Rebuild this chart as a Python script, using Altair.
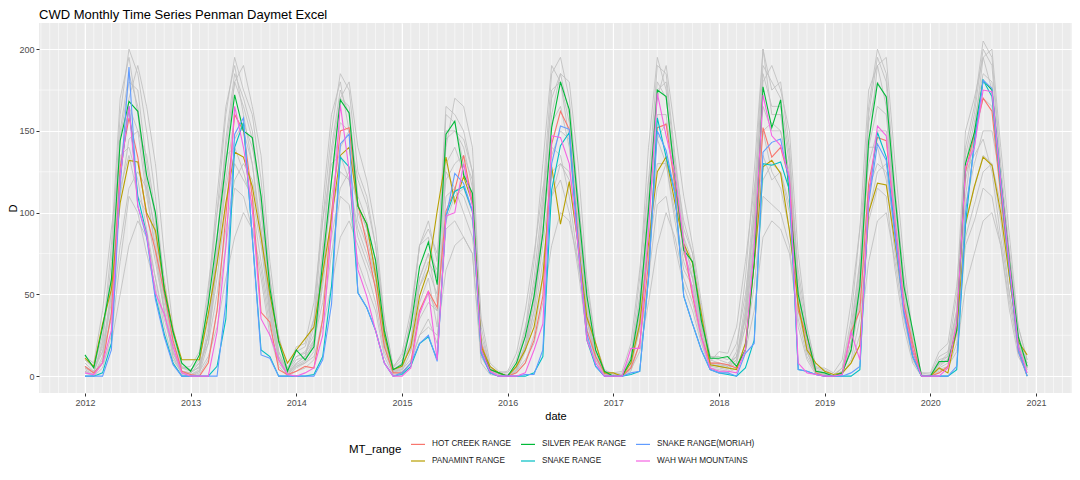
import altair as alt
import pandas as pd

# ---------------- data ----------------
years = list(range(2012, 2021))
months = list(range(1, 13))
year_ticks = list(range(2012, 2022))
y_ticks = [0, 50, 100, 150, 200]
y_minor = [25, 75, 125, 175]
grid_years = list(range(2011, 2022))

ranges = ["HOT CREEK RANGE", "PANAMINT RANGE", "SILVER PEAK RANGE",
          "SNAKE RANGE", "SNAKE RANGE(MORIAH)", "WAH WAH MOUNTAINS"]
colors = ["#F8766D", "#B79F00", "#00BA38", "#00BFC4", "#619CFF", "#F564E3"]

hot_creek = [
    6, 2, 8, 38, 128, 158, 134, 98, 77, 51, 22, 3,
    1, 0, 8, 40, 98, 160, 150, 110, 39, 33, 4, 1,
    3, 6, 5, 35, 100, 150, 152, 105, 81, 53, 18, 2,
    2, 8, 40, 52, 42, 101, 114, 135, 106, 20, 4, 2,
    0, 2, 8, 22, 49, 142, 162, 151, 85, 28, 12, 2,
    0, 0, 5, 20, 69, 152, 154, 116, 79, 49, 24, 8,
    8, 7, 5, 16, 69, 152, 134, 140, 120, 40, 24, 2,
    0, 0, 1, 27, 40, 118, 146, 144, 93, 44, 20, 0,
    0, 2, 6, 32, 125, 148, 170, 162, 110, 65, 15, 0,
]
panamint = [
    11, 6, 32, 53, 106, 132, 131, 100, 89, 55, 28, 10,
    10, 10, 38, 69, 106, 137, 134, 116, 85, 50, 22, 8,
    16, 23, 30, 63, 96, 135, 140, 104, 93, 62, 25, 4,
    6, 18, 49, 65, 101, 134, 106, 122, 106, 18, 6, 2,
    0, 6, 16, 30, 61, 128, 93, 119, 81, 36, 20, 2,
    2, 0, 8, 32, 81, 125, 134, 106, 81, 69, 38, 7,
    6, 5, 4, 20, 69, 128, 132, 124, 89, 44, 16, 8,
    3, 1, 2, 8, 19, 100, 118, 117, 81, 42, 16, 0,
    0, 5, 2, 28, 93, 116, 134, 129, 100, 60, 21, 13,
]
silver_peak = [
    13, 5, 30, 59, 144, 168, 162, 123, 100, 53, 27, 8,
    3, 13, 44, 85, 130, 172, 150, 146, 110, 54, 21, 3,
    16, 10, 18, 70, 120, 169, 161, 104, 93, 71, 28, 4,
    7, 30, 67, 82, 56, 148, 156, 123, 112, 16, 4, 2,
    0, 8, 24, 49, 87, 152, 180, 163, 104, 49, 16, 3,
    0, 0, 10, 42, 102, 175, 171, 122, 77, 70, 34, 11,
    11, 12, 6, 16, 69, 177, 152, 169, 110, 50, 25, 3,
    2, 0, 2, 16, 55, 144, 179, 171, 110, 55, 28, 0,
    0, 9, 9, 28, 130, 149, 181, 175, 120, 70, 24, 6,
]
snake = [
    0, 0, 2, 20, 122, 165, 110, 87, 49, 26, 8, 0,
    0, 0, 0, 6, 35, 140, 155, 85, 16, 12, 0, 0,
    0, 0, 1, 12, 55, 134, 128, 51, 42, 28, 8, 0,
    1, 6, 20, 24, 10, 98, 113, 116, 101, 14, 2, 0,
    0, 0, 0, 2, 12, 114, 141, 149, 79, 22, 6, 0,
    0, 0, 1, 3, 60, 158, 134, 112, 49, 32, 16, 4,
    2, 1, 0, 5, 22, 130, 129, 131, 114, 4, 3, 1,
    0, 0, 0, 0, 4, 110, 149, 134, 89, 40, 12, 0,
    0, 0, 0, 4, 93, 144, 181, 171, 115, 65, 18, 0,
]
snake_moriah = [
    0, 0, 0, 16, 116, 189, 104, 85, 47, 24, 7, 0,
    0, 0, 0, 0, 45, 148, 158, 85, 13, 11, 0, 0,
    0, 0, 0, 10, 44, 142, 148, 51, 42, 28, 8, 0,
    2, 8, 20, 25, 9, 97, 124, 118, 101, 14, 2, 0,
    0, 0, 1, 1, 16, 130, 153, 151, 81, 26, 6, 0,
    0, 0, 2, 3, 60, 150, 138, 112, 49, 32, 16, 4,
    2, 2, 0, 14, 20, 137, 143, 145, 118, 4, 3, 1,
    0, 0, 0, 2, 6, 106, 142, 132, 85, 38, 12, 0,
    0, 0, 0, 6, 100, 140, 181, 176, 120, 65, 15, 0,
]
wah_wah = [
    2, 1, 8, 28, 122, 165, 104, 87, 51, 38, 18, 2,
    0, 0, 0, 27, 79, 165, 140, 102, 35, 25, 10, 1,
    0, 2, 5, 25, 90, 166, 126, 65, 49, 28, 8, 0,
    0, 5, 38, 52, 10, 98, 100, 130, 104, 16, 3, 0,
    0, 0, 2, 16, 32, 147, 146, 130, 79, 22, 8, 0,
    0, 0, 17, 17, 89, 173, 147, 124, 81, 51, 24, 5,
    3, 3, 2, 16, 79, 172, 147, 141, 122, 8, 2, 1,
    0, 0, 1, 27, 10, 110, 153, 147, 93, 42, 16, 0,
    0, 0, 5, 32, 128, 140, 175, 174, 118, 68, 18, 2,
]

# other mountain ranges (grey background lines)
grey_1 = [
    5, 2, 20, 70, 160, 200, 185, 150, 110, 55, 20, 3,
    2, 8, 45, 100, 160, 195, 175, 160, 120, 60, 15, 2,
    10, 12, 30, 95, 150, 185, 175, 125, 110, 80, 30, 3,
    8, 35, 80, 95, 70, 165, 160, 150, 125, 20, 3, 1,
    0, 6, 25, 60, 110, 185, 195, 170, 110, 50, 15, 2,
    0, 0, 10, 50, 120, 190, 185, 135, 90, 75, 40, 10,
    8, 6, 10, 45, 110, 200, 175, 180, 140, 60, 25, 3,
    2, 0, 3, 25, 70, 165, 200, 185, 115, 60, 20, 0,
    0, 10, 12, 40, 140, 165, 205, 195, 130, 75, 25, 8,
]
grey_2 = [
    8, 3, 15, 45, 120, 170, 190, 165, 130, 75, 30, 5,
    3, 5, 25, 70, 130, 180, 190, 165, 135, 70, 25, 4,
    12, 15, 25, 60, 120, 170, 180, 140, 120, 90, 35, 5,
    10, 20, 55, 70, 60, 140, 170, 165, 140, 30, 5, 2,
    0, 5, 20, 45, 90, 160, 185, 180, 130, 60, 20, 3,
    0, 0, 5, 35, 100, 170, 190, 150, 110, 80, 45, 12,
    10, 8, 12, 35, 90, 180, 190, 175, 150, 75, 30, 5,
    3, 0, 2, 15, 55, 140, 190, 195, 130, 70, 25, 0,
    0, 8, 10, 30, 110, 150, 195, 200, 140, 85, 30, 10,
]
grey_3 = [
    3, 0, 8, 40, 130, 165, 150, 110, 80, 40, 12, 1,
    0, 2, 20, 70, 120, 160, 150, 130, 90, 40, 10, 0,
    5, 8, 15, 60, 120, 155, 150, 95, 80, 60, 20, 2,
    3, 15, 45, 60, 30, 130, 140, 125, 110, 12, 2, 0,
    0, 3, 15, 40, 90, 155, 165, 140, 85, 35, 10, 1,
    0, 0, 5, 30, 95, 160, 160, 115, 75, 60, 30, 6,
    5, 4, 8, 30, 85, 165, 150, 150, 120, 45, 15, 2,
    1, 0, 2, 15, 50, 140, 165, 160, 95, 45, 12, 0,
    0, 5, 8, 30, 120, 145, 170, 165, 115, 60, 18, 4,
]
grey_4 = [
    10, 5, 25, 60, 110, 145, 150, 135, 100, 60, 25, 6,
    4, 10, 35, 75, 115, 145, 155, 140, 110, 60, 22, 5,
    15, 18, 35, 70, 110, 140, 150, 120, 105, 80, 35, 6,
    12, 30, 60, 75, 65, 120, 130, 135, 120, 35, 8, 3,
    2, 10, 30, 55, 90, 135, 150, 145, 110, 55, 20, 4,
    1, 2, 12, 45, 100, 145, 155, 130, 95, 75, 40, 12,
    12, 10, 20, 50, 95, 150, 155, 150, 125, 65, 30, 6,
    4, 1, 5, 30, 70, 130, 150, 150, 110, 60, 22, 2,
    1, 12, 15, 40, 105, 130, 150, 150, 120, 75, 30, 10,
]
grey_5 = [
    2, 0, 5, 25, 70, 110, 100, 75, 55, 25, 8, 0,
    0, 1, 10, 40, 80, 115, 110, 90, 60, 25, 6, 0,
    3, 5, 10, 35, 75, 110, 105, 70, 55, 40, 12, 1,
    2, 8, 25, 35, 20, 90, 95, 85, 75, 8, 1, 0,
    0, 2, 8, 25, 60, 110, 120, 100, 65, 25, 6, 0,
    0, 0, 3, 20, 60, 105, 110, 80, 55, 40, 20, 4,
    3, 2, 5, 20, 55, 110, 105, 100, 80, 30, 10, 1,
    0, 0, 1, 10, 35, 95, 115, 110, 65, 30, 8, 0,
    0, 3, 5, 20, 80, 95, 115, 110, 80, 40, 12, 2,
]
grey_6 = [
    5, 2, 8, 20, 50, 80, 95, 85, 60, 30, 10, 2,
    1, 3, 12, 30, 60, 85, 100, 90, 65, 30, 8, 1,
    6, 8, 12, 30, 55, 85, 95, 80, 65, 45, 15, 2,
    4, 10, 25, 30, 25, 65, 80, 85, 75, 12, 3, 1,
    0, 3, 10, 20, 45, 80, 100, 95, 70, 30, 8, 1,
    0, 0, 4, 15, 45, 80, 100, 85, 60, 45, 22, 5,
    4, 3, 6, 15, 40, 85, 95, 90, 75, 35, 12, 2,
    1, 0, 2, 8, 25, 70, 95, 100, 70, 35, 10, 0,
    0, 4, 6, 15, 55, 75, 95, 100, 80, 45, 15, 4,
]
grey_7 = [
    4, 1, 12, 55, 150, 185, 165, 120, 85, 45, 15, 2,
    1, 4, 30, 85, 140, 180, 165, 145, 100, 45, 12, 1,
    7, 10, 22, 80, 140, 175, 160, 105, 90, 65, 22, 2,
    5, 22, 60, 75, 45, 150, 150, 140, 115, 15, 2, 0,
    0, 4, 18, 50, 100, 175, 180, 155, 95, 40, 12, 1,
    0, 0, 6, 40, 110, 180, 170, 125, 80, 65, 32, 7,
    6, 5, 8, 38, 100, 185, 165, 165, 130, 50, 18, 2,
    1, 0, 2, 20, 60, 155, 180, 170, 100, 50, 15, 0,
    0, 7, 10, 35, 130, 155, 185, 180, 120, 65, 20, 5,
]
grey_8 = [
    12, 8, 40, 90, 135, 140, 120, 90, 60, 35, 15, 5,
    6, 15, 55, 100, 135, 140, 125, 105, 70, 35, 12, 4,
    18, 20, 45, 95, 130, 135, 120, 85, 70, 55, 22, 5,
    14, 40, 80, 90, 75, 125, 115, 100, 85, 25, 6, 2,
    3, 14, 40, 75, 115, 140, 135, 110, 70, 35, 12, 3,
    2, 3, 20, 65, 120, 145, 130, 95, 65, 55, 28, 9,
    15, 14, 30, 70, 115, 150, 125, 115, 90, 45, 20, 5,
    5, 2, 10, 45, 90, 140, 140, 120, 75, 40, 14, 2,
    2, 15, 20, 55, 125, 135, 145, 125, 85, 50, 20, 8,
]
grey_9 = [
    6, 3, 18, 50, 115, 135, 110, 100, 70, 40, 14, 3,
    2, 6, 25, 60, 105, 130, 120, 110, 80, 38, 10, 2,
    8, 12, 20, 55, 100, 125, 120, 90, 75, 55, 18, 3,
    6, 18, 40, 50, 40, 110, 115, 110, 95, 18, 4, 1,
    1, 5, 18, 40, 80, 125, 130, 120, 80, 35, 10, 2,
    0, 1, 8, 30, 85, 130, 130, 100, 70, 55, 25, 6,
    7, 6, 12, 35, 80, 135, 120, 125, 100, 40, 15, 3,
    2, 0, 3, 20, 55, 115, 130, 125, 85, 40, 12, 0,
    0, 8, 10, 30, 95, 115, 135, 130, 95, 50, 16, 5,
]
grey_10 = [
    6, 2, 22, 80, 170, 195, 160, 115, 75, 40, 12, 2,
    2, 6, 50, 110, 165, 190, 160, 130, 85, 40, 10, 1,
    8, 12, 35, 105, 160, 180, 150, 100, 85, 60, 20, 2,
    6, 35, 80, 85, 60, 160, 155, 130, 110, 14, 2, 0,
    0, 6, 28, 70, 130, 190, 180, 145, 90, 35, 10, 1,
    0, 0, 12, 60, 140, 195, 175, 115, 75, 60, 28, 6,
    7, 6, 15, 60, 125, 200, 160, 160, 120, 45, 15, 2,
    1, 0, 5, 35, 90, 175, 190, 165, 95, 45, 12, 0,
    0, 8, 14, 50, 150, 170, 195, 175, 115, 60, 18, 5,
]
grey_11 = [
    10, 6, 15, 35, 80, 115, 125, 115, 90, 50, 20, 5,
    4, 8, 20, 50, 90, 120, 130, 120, 90, 45, 15, 3,
    12, 14, 22, 45, 85, 115, 125, 105, 90, 65, 25, 4,
    8, 16, 35, 45, 40, 95, 110, 115, 100, 22, 5, 2,
    1, 6, 16, 35, 70, 110, 130, 125, 95, 45, 14, 3,
    1, 1, 8, 28, 75, 115, 130, 115, 85, 60, 32, 8,
    8, 7, 12, 30, 70, 120, 130, 125, 105, 50, 20, 4,
    2, 0, 3, 15, 45, 100, 125, 130, 95, 50, 15, 1,
    0, 6, 10, 25, 85, 105, 125, 130, 105, 60, 20, 6,
]
grey_12 = [
    3, 1, 10, 50, 145, 180, 175, 130, 95, 50, 15, 2,
    0, 3, 25, 80, 145, 185, 170, 150, 105, 50, 12, 1,
    6, 9, 20, 75, 135, 170, 165, 110, 95, 70, 25, 3,
    4, 20, 55, 65, 50, 145, 150, 145, 125, 16, 3, 1,
    0, 4, 18, 48, 105, 170, 185, 160, 100, 42, 12, 1,
    0, 0, 6, 38, 105, 175, 180, 130, 85, 70, 35, 8,
    6, 5, 10, 40, 100, 190, 180, 170, 135, 55, 20, 3,
    1, 0, 2, 20, 65, 160, 195, 180, 105, 55, 16, 0,
    0, 8, 12, 38, 135, 160, 200, 190, 125, 70, 22, 6,
]

# ---------------- tables ----------------
t_vals = [y + (m - 1) / 12 for y in years for m in months]

colored = [hot_creek, panamint, silver_peak, snake, snake_moriah, wah_wah]
rows = []
for name, series in zip(ranges, colored):
    for t, v in zip(t_vals, series):
        rows.append({"t": t, "D": v, "MT_range": name})
df_col = pd.DataFrame(rows)

greys = [grey_1, grey_2, grey_3, grey_4, grey_5, grey_6,
         grey_7, grey_8, grey_9, grey_10, grey_11, grey_12]
grows = []
for i, series in enumerate(greys):
    for t, v in zip(t_vals, series):
        grows.append({"t": t, "D": v, "series": f"g{i}"})
df_grey = pd.DataFrame(grows)

x_lo, x_hi = 2011.565, 2021.341
y_lo, y_hi = -10.3, 216
df_vgrid = pd.DataFrame({"t": [y + (m - 1) / 12 for y in grid_years for m in months
                               if x_lo < y + (m - 1) / 12 < x_hi]})
df_hgrid = pd.DataFrame({"D": y_minor})

# ---------------- encodings ----------------
FONT = "Liberation Sans"
xscale = alt.Scale(domain=[x_lo, x_hi], nice=False, zero=False)
yscale = alt.Scale(domain=[y_lo, y_hi], nice=False, zero=False)
xaxis = alt.Axis(title="date", values=year_ticks, format="d", grid=True,
                 gridColor="white", gridWidth=1.1, tickSize=3, labelPadding=2,
                 titlePadding=3)
yaxis = alt.Axis(title="D", values=y_ticks, grid=True, gridColor="white",
                 gridWidth=1.1, tickSize=3, labelPadding=2, titlePadding=0)

X = alt.X("t:Q", scale=xscale, axis=xaxis)
Y = alt.Y("D:Q", scale=yscale, axis=yaxis)

vgrid = alt.Chart(df_vgrid).mark_rule(color="white", strokeWidth=0.55).encode(x=X)
hgrid = alt.Chart(df_hgrid).mark_rule(color="white", strokeWidth=0.55).encode(y=Y)

grey_lines = alt.Chart(df_grey).mark_line(
    color="#C0C0C0", strokeWidth=1, opacity=0.85
).encode(x=X, y=Y, detail="series:N")

legend_domain = [ranges[0], ranges[2], ranges[4], ranges[1], ranges[3], ranges[5]]
legend_range = [colors[0], colors[2], colors[4], colors[1], colors[3], colors[5]]

col_lines = alt.Chart(df_col).mark_line(strokeWidth=1.1).encode(
    x=X, y=Y,
    color=alt.Color(
        "MT_range:N",
        scale=alt.Scale(domain=legend_domain, range=legend_range),
        legend=alt.Legend(
            title="MT_range", orient="none", legendX=310, legendY=413,
            direction="horizontal", columns=3, titleOrient="left",
            titleAnchor="middle", titleFontSize=11.5, titleFontWeight="normal",
            titleFont=FONT, titleColor="black", titlePadding=8,
            labelFont=FONT, labelFontSize=8.2, labelColor="#1a1a1a",
            symbolType="stroke", symbolSize=196, symbolStrokeWidth=1.2,
            labelOffset=6, columnPadding=6, rowPadding=5,
        ),
    ),
    detail="MT_range:N",
)

chart = alt.layer(vgrid, hgrid, grey_lines, col_lines).properties(
    width=1033, height=370,
    autosize=alt.AutoSizeParams(type="none"),
    padding={"left": 31, "top": 15, "right": 0, "bottom": 75},
    title=alt.TitleParams(
        "CWD Monthly Time Series Penman Daymet Excel",
        anchor="start", frame="group", fontSize=13, font=FONT,
        fontWeight="normal", color="black", offset=1,
    ),
).configure_view(fill="#EBEBEB", stroke=None).configure_axis(
    domain=False, tickColor="#333333", labelColor="#4D4D4D", labelFont=FONT,
    labelFontSize=9, titleFont=FONT, titleFontSize=11, titleFontWeight="normal",
    titleColor="black",
)

chart.save("out.html", embed_options={"renderer": "svg", "actions": False})
